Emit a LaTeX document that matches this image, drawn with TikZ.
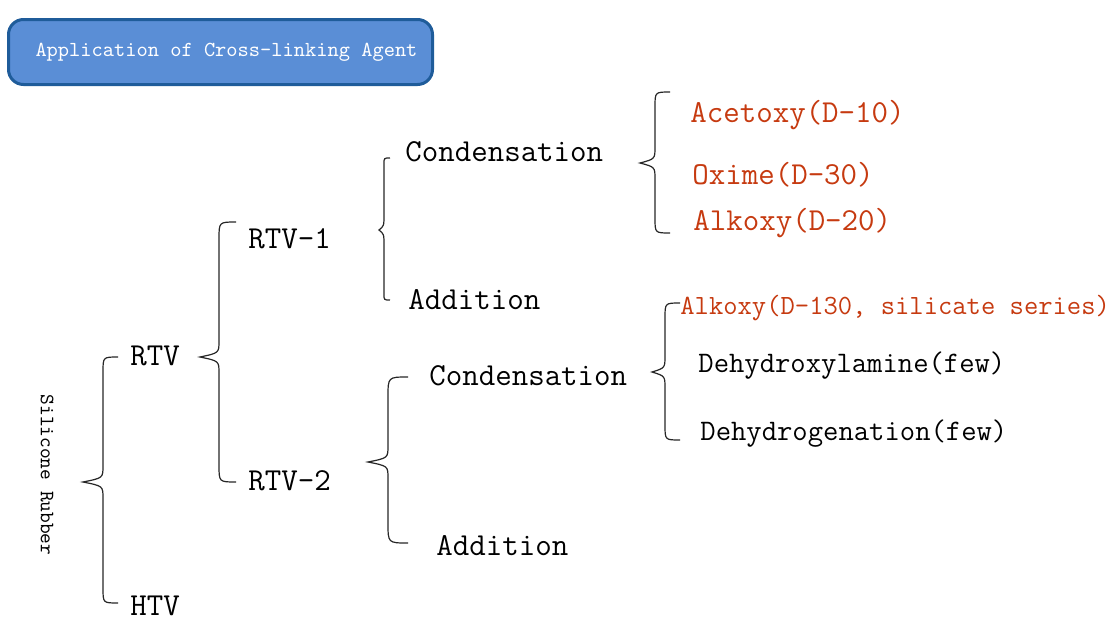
\documentclass[tikz,border=0pt]{standalone}
\usepackage{fontspec}
\definecolor{boxfill}{HTML}{5A8ED6}
\definecolor{boxline}{HTML}{1F5C9A}
\definecolor{agent}{HTML}{C63A10}
% left curly brace: line x, tip x, top y, tip y, bottom y, hook
\newcommand{\curly}[6]{%
  \draw[brace] (#1+#6,#3) .. controls (#1,#3) .. (#1,#3+#6) -- (#1,#4-16)
    .. controls (#1,#4-4) .. (#2,#4) .. controls (#1,#4+4) .. (#1,#4+16)
    -- (#1,#5-#6) .. controls (#1,#5) .. (#1+#6,#5);}
\tikzset{
  brace/.style={draw=black!85, line width=0.6pt},
  term/.style={anchor=base west, inner sep=0pt, font=\fontsize{16}{19}\selectfont\ttfamily},
  small/.style={term, font=\fontsize{14.9}{18}\selectfont\ttfamily},
  titlebox/.style={draw=boxline, fill=boxfill, line width=1.5pt, rounded corners=7.5pt,
    text=white, minimum width=212pt, minimum height=32.5pt, anchor=north west,
    font=\fontsize{10.7}{13}\selectfont\ttfamily}
}
\begin{document}
\begin{tikzpicture}[x=0.5pt,y=-0.5pt]
\useasboundingbox (0,0) rectangle (1110,627);

\node[titlebox] (title) at (7,18) {\hspace{6pt}Application of Cross-linking Agent};

% first level
\node[anchor=center, inner sep=0pt, rotate=-90, font=\fontsize{10.2}{12}\selectfont\ttfamily]
  (silicone) at (47,475) {Silicone Rubber};
\node[term] (rtv) at (130,365) {RTV};
\node[term] (htv) at (130,615) {HTV};

% second level
\node[term] (rtvone) at (248,248) {RTV-1};
\node[term] (rtvtwo) at (248,490) {RTV-2};

% third level
\node[term] (condone) at (405,161) {Condensation};
\node[term] (addone) at (408,309) {Addition};
\node[term] (condtwo) at (429,385) {Condensation};
\node[term] (addtwo) at (436,555) {Addition};

% cross-linking agents
\node[term, text=agent] (acetoxy) at (690,122) {Acetoxy(D-10)};
\node[term, text=agent] (oxime) at (692,184) {Oxime(D-30)};
\node[term, text=agent] (alkoxyA) at (693,230) {Alkoxy(D-20)};
\node[small, text=agent, font=\fontsize{13.9}{16}\selectfont\ttfamily] (alkoxyB) at (680,314) {Alkoxy(D-130, silicate series)};
\node[small] (dehydroxyl) at (698,372) {Dehydroxylamine(few)};
\node[small] (dehydrogen) at (700,440) {Dehydrogenation(few)};

% braces
\curly{103}{83}{357}{482}{603}{15}
\curly{219}{200}{222}{357}{482}{17}
\curly{384}{379}{158}{230}{300}{6}
\curly{388}{368}{377}{462}{543}{20}
\curly{655}{640}{92}{163}{233}{15}
\curly{665}{652}{303}{372}{440}{15}

\end{tikzpicture}
\end{document}
